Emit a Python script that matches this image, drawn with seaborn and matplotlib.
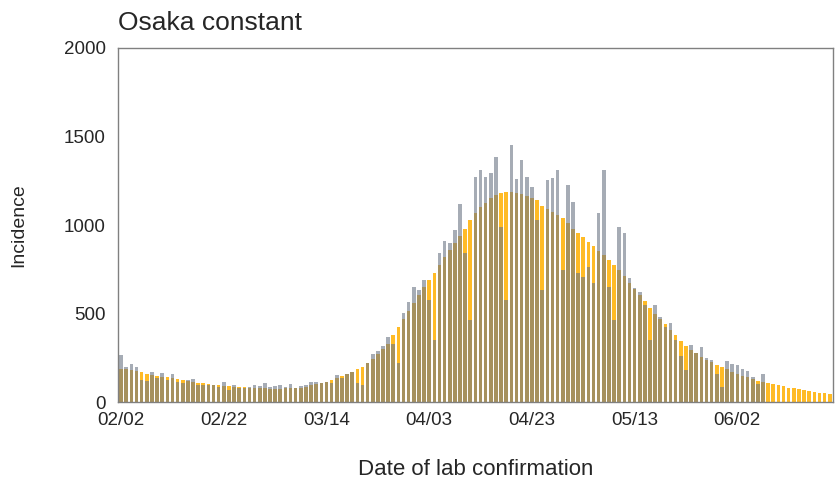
import numpy as np
import pandas as pd
import matplotlib
matplotlib.use("Agg")
import matplotlib.pyplot as plt
import seaborn as sns

# days since 02/02 (2021)
days = list(range(139))

# observed incidence by date of lab confirmation (grey)
observed = [265, 200, 215, 198, 125, 120, 171, 135, 165, 124,
            158, 115, 107, 124, 130, 96, 96, 96, 95, 85,
            115, 70, 95, 80, 78, 85, 95, 90, 110, 85,
            90, 95, 88, 100, 82, 90, 96, 115, 115, 107,
            115, 110, 156, 135, 158, 171, 110, 95, 220, 271,
            290, 316, 369, 330, 220, 501, 567, 652, 633, 689,
            576, 350, 841, 910, 900, 972, 1119, 842, 463, 1271,
            1311, 1273, 1296, 1386, 991, 576, 1452, 1258, 1367, 1273,
            1217, 1028, 633, 1254, 1264, 1311, 746, 1226, 1132, 729,
            708, 764, 672, 1068, 1311, 650, 463, 991, 953, 700,
            644, 623, 548, 350, 548, 482, 425, 448, 350, 260,
            181, 322, 279, 313, 249, 237, 160, 87, 234, 218,
            209, 185, 177, 143, 100, 158]

# model estimate, constant scenario (orange)
estimate = [190, 185, 180, 175, 168, 162, 156, 150, 145, 140,
            135, 130, 125, 120, 115, 110, 106, 102, 98, 95,
            92, 90, 88, 86, 84, 82, 80, 79, 78, 77,
            77, 77, 78, 79, 80, 82, 88, 95, 100, 107,
            115, 125, 135, 147, 160, 172, 185, 200, 220, 245,
            272, 300, 330, 380, 425, 470, 515, 560, 605, 650,
            690, 730, 775, 820, 862, 900, 940, 980, 1030, 1070,
            1100, 1125, 1150, 1168, 1180, 1185, 1186, 1182, 1175, 1165,
            1152, 1140, 1105, 1090, 1075, 1058, 1040, 1010, 980, 955,
            930, 905, 880, 855, 830, 805, 775, 745, 710, 675,
            640, 605, 570, 530, 500, 470, 440, 410, 380, 345,
            315, 295, 275, 258, 240, 225, 210, 198, 185, 172,
            160, 150, 140, 130, 122, 115, 108, 101, 95, 89,
            83, 78, 73, 68, 63, 58, 54, 50, 46]

tick_days = [0, 20, 40, 60, 80, 100, 120]
tick_labels = ["02/02", "02/22", "03/14", "04/03", "04/23", "05/13", "06/02"]

est_df = pd.DataFrame({"day": days, "value": estimate})
obs_df = pd.DataFrame({"day": days[:len(observed)], "value": observed})

sns.set_style("white")
plt.rcParams["font.family"] = ["Liberation Sans", "DejaVu Sans"]

fig = plt.figure(figsize=(8.37, 4.84), dpi=100)
ax = fig.add_axes([0.141, 0.169, 0.854, 0.732])

sns.barplot(data=est_df, x="day", y="value", order=days, color="#FFB000",
            alpha=0.85, saturation=1, width=0.7, linewidth=0, ax=ax)
sns.barplot(data=obs_df, x="day", y="value", order=days, color="#6b7585",
            alpha=0.6, saturation=1, width=0.7, linewidth=0, ax=ax)

ax.set_xlim(-0.6, 138.6)
ax.set_ylim(0, 2000)
ax.set_yticks([0, 500, 1000, 1500, 2000])
ax.set_xticks(tick_days)
ax.set_xticklabels(tick_labels)
ax.tick_params(axis="both", which="both", direction="out", length=4,
               width=1, color="#555555", labelsize=13.5)
ax.tick_params(axis="x", pad=3)
ax.tick_params(axis="y", pad=5)

for sp in ax.spines.values():
    sp.set_color("#808080")
    sp.set_linewidth(1)

ax.set_title("Osaka constant", loc="left", fontsize=19, pad=13)
ax.set_xlabel("Date of lab confirmation", fontsize=16, labelpad=22)
ax.set_ylabel("Incidence", fontsize=14, labelpad=26)

fig.savefig("out.png", dpi=100)
